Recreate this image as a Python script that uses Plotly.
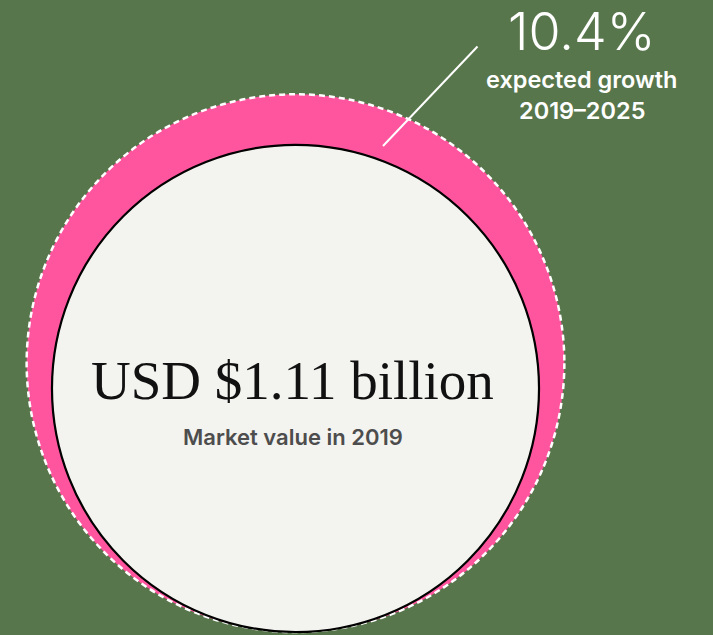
import plotly.graph_objects as go

# Market figures
market_value_2019 = 1.11          # USD billion
growth_pct = 10.4                 # expected growth 2019-2025, percent
value_label = "USD $1.11 billion"
value_caption = "Market value in 2019"
growth_label = "10.4%"
growth_caption = ["expected growth", "2019–2025"]

# Colours
BG = "#58764B"
PINK = "#FF559F"
CREAM = "#F3F3EF"

W, H = 713, 635
PX_PER_BILLION = 219.4            # circle radius scale
cx = 295.5                        # shared horizontal centre
base_y = 632                      # both circles rest on this line

r_inner = market_value_2019 * PX_PER_BILLION
r_outer = market_value_2019 * (1 + growth_pct / 100) * PX_PER_BILLION
cy_inner = base_y - r_inner
cy_outer = base_y - r_outer

fig = go.Figure()

shapes = [
    dict(type="circle", xref="x", yref="y",
         x0=cx - r_outer, x1=cx + r_outer, y0=cy_outer - r_outer, y1=cy_outer + r_outer,
         fillcolor=PINK, line=dict(color="white", width=2.5, dash="6px,4px"), layer="below"),
    dict(type="circle", xref="x", yref="y",
         x0=cx - r_inner, x1=cx + r_inner, y0=cy_inner - r_inner, y1=cy_inner + r_inner,
         fillcolor=CREAM, line=dict(color="black", width=2.2), layer="below"),
    dict(type="line", xref="x", yref="y", x0=383, y0=146, x1=477.5, y1=46.5,
         line=dict(color="white", width=2)),
]

annotations = [
    dict(x=292.5, y=380, xref="x", yref="y", text=value_label, showarrow=False,
         xanchor="center", yanchor="middle",
         font=dict(family="Liberation Serif", size=55, color="#111111")),
    dict(x=292.5, y=437, xref="x", yref="y", text=value_caption, showarrow=False,
         xanchor="center", yanchor="middle",
         font=dict(family="Inter", size=22, color="#4D4D4D", weight=600)),
    dict(x=581.5, y=31, xref="x", yref="y", text=growth_label, showarrow=False,
         xanchor="center", yanchor="middle", height=44, valign="middle",
         font=dict(family="Inter", size=52, color="white", weight=300)),
    dict(x=581.5, y=79, xref="x", yref="y", text=growth_caption[0], showarrow=False,
         xanchor="center", yanchor="middle",
         font=dict(family="Inter", size=23.5, color="white", weight=600)),
    dict(x=581.5, y=110, xref="x", yref="y", text=growth_caption[1], showarrow=False,
         xanchor="center", yanchor="middle",
         font=dict(family="Inter", size=23.5, color="white", weight=600)),
]

fig.update_layout(
    width=W, height=H,
    margin=dict(l=0, r=0, t=0, b=0),
    paper_bgcolor=BG, plot_bgcolor=BG,
    xaxis=dict(range=[0, W], visible=False, fixedrange=True),
    yaxis=dict(range=[H, 0], visible=False, fixedrange=True),
    shapes=shapes, annotations=annotations,
    showlegend=False,
)

fig.write_html("out.html")
